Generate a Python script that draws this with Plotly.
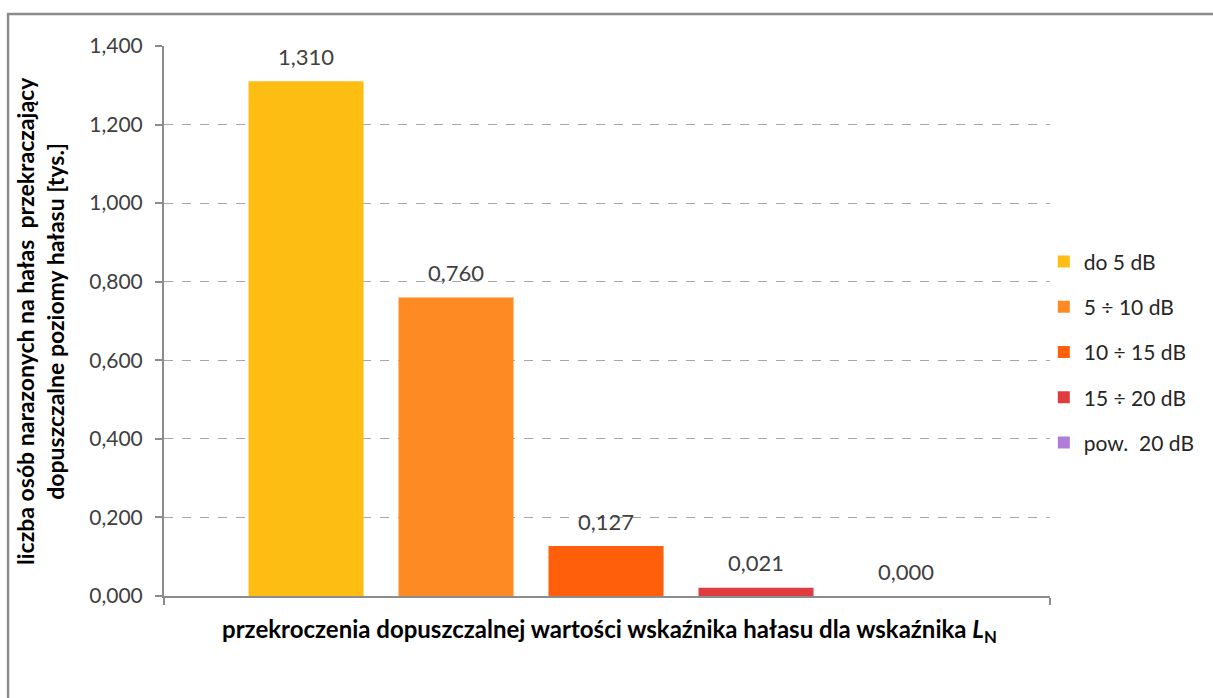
import plotly.graph_objects as go

# Przekroczenia dopuszczalnej wartości wskaźnika hałasu L_N
klasy = ["do 5 dB", "5 ÷ 10 dB", "10 ÷ 15 dB", "15 ÷ 20 dB", "pow.  20 dB"]
liczba_osob = [1.310, 0.760, 0.127, 0.021, 0.000]
kolory = ["#FDBD13", "#FD8A23", "#FF5E0A", "#DF3C3F", "#B07CDA"]
pozycje = [0, 1, 2, 3, 4]
y_ticks = [0.0, 0.2, 0.4, 0.6, 0.8, 1.0, 1.2, 1.4]

FONT = "Lato"
GRAY = "#8C8C8C"

fig = go.Figure()
for i, (nazwa, wart, kol) in enumerate(zip(klasy, liczba_osob, kolory)):
    fig.add_trace(go.Bar(
        x=[pozycje[i]], y=[wart], name=nazwa, width=0.767,
        marker=dict(color=kol, line=dict(width=0)),
        legendgroup=f"g{i}",
        hoverinfo="name+y",
    ))
    fig.add_annotation(
        x=pozycje[i], y=wart, text=f"{wart:.3f}".replace(".", ","),
        showarrow=False, yshift=25, yanchor="middle",
        font=dict(family=FONT, size=22, color="#404040"),
    )

# Tytuły osi
fig.add_annotation(
    x=-0.14, y=0.5, xref="paper", yref="paper", textangle=-90,
    xanchor="center", yanchor="middle",
    text="<b>liczba osób narazonych na hałas  przekraczający<br>dopuszczalne poziomy hałasu [tys.]</b>",
    showarrow=False, font=dict(family=FONT, size=23, color="#000000"),
)
fig.add_annotation(
    x=0.503, y=-0.062, xref="paper", yref="paper",
    xanchor="center", yanchor="middle",
    text="<b>przekroczenia dopuszczalnej wartości wskaźnika hałasu dla wskaźnika <i>L</i><sub>N</sub></b>",
    showarrow=False, font=dict(family=FONT, size=24, color="#000000"),
)

# Ramka wykresu
fig.add_shape(
    type="rect", xref="paper", yref="paper",
    x0=-0.176, x1=1.4, y0=-0.4, y1=1.058,
    line=dict(color=GRAY, width=2.5), layer="below",
)

fig.update_layout(
    width=1213, height=698,
    margin=dict(l=164, r=163, t=46, b=102),
    paper_bgcolor="white", plot_bgcolor="white",
    separators=", ",
    barmode="overlay",
    font=dict(family=FONT, color="#404040"),
    legend=dict(
        x=0.993, y=0.645, xanchor="left", yanchor="top",
        font=dict(family=FONT, size=21, color="#262626"),
        tracegroupgap=15, traceorder="grouped",
        bgcolor="rgba(0,0,0,0)",
    ),
    xaxis=dict(
        range=[-0.947, 4.96], showgrid=False, zeroline=False,
        showline=True, linecolor=GRAY, linewidth=2,
        tickvals=[-0.947, 4.96], ticks="outside", ticklen=7,
        tickcolor=GRAY, tickwidth=2, showticklabels=False,
    ),
    yaxis=dict(
        range=[0, 1.4], tickvals=y_ticks, tickformat=".3f",
        showgrid=True, gridcolor="#A6A6A6", griddash="dash", gridwidth=1,
        zeroline=False, showline=True, linecolor=GRAY, linewidth=2,
        ticks="outside", ticklen=7, tickcolor=GRAY, tickwidth=2,
        ticklabelstandoff=8,
        tickfont=dict(family=FONT, size=21, color="#404040"),
    ),
)

fig.write_html("out.html")
